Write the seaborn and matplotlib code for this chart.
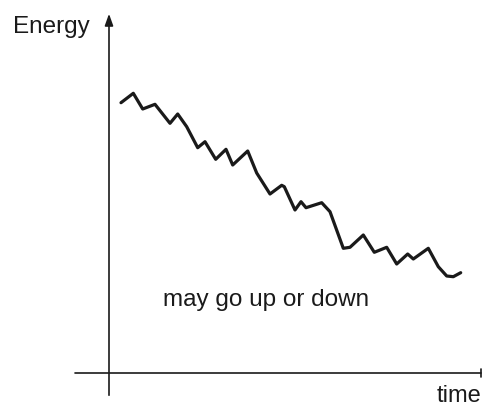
import matplotlib
matplotlib.use("Agg")
import matplotlib.pyplot as plt
import seaborn as sns
import pandas as pd

# energy curve
time = [1.2, 2.43, 3.37, 4.6, 6.1, 6.87, 7.77, 8.87, 9.6, 10.67, 11.7, 12.37,
        13.87, 14.77, 16.1, 17.27, 17.53, 18.6, 19.2, 19.7, 21.27, 22.1, 23.43,
        24.1, 25.43, 26.53, 27.77, 28.77, 29.87, 30.43, 31.93, 32.93, 33.77,
        34.43, 35.17]
energy = [27.03, 27.97, 26.4, 26.87, 24.97, 25.9, 24.63, 22.53, 23.13, 21.37,
          22.37, 20.8, 22.2, 20.0, 17.9, 18.77, 18.63, 16.3, 17.13, 16.53,
          17.03, 16.13, 12.47, 12.57, 13.8, 12.07, 12.57, 10.9, 11.9, 11.4,
          12.47, 10.63, 9.7, 9.63, 10.03]
df = pd.DataFrame({"time": time, "energy": energy})

sns.set_style("white")
plt.rcParams['font.family'] = ['Liberation Sans', 'DejaVu Sans']

fig = plt.figure(figsize=(4.82, 4.08), dpi=100)
ax = fig.add_axes([0, 0, 1, 1])
ax.set_xlim(-10.9, 37.3)
ax.set_ylim(-3.5, 37.3)
ax.axis('off')

# curve
sns.lineplot(data=df, x="time", y="energy", sort=False, color='#1a1a1a',
             linewidth=2.3, ax=ax)
ax.lines[-1].set_solid_joinstyle('round')
ax.lines[-1].set_solid_capstyle('round')

# axes with arrow
ax.annotate('', xy=(0, 36.2), xytext=(0, -2.5),
            arrowprops=dict(arrowstyle='-|>,head_length=0.7,head_width=0.25',
                            color='#1a1a1a', lw=1.2))
ax.plot([-3.4, 37.2], [0, 0], color='#1a1a1a', lw=1.2)
ax.plot([37.2, 37.2], [-0.4, 0.4], color='#1a1a1a', lw=1.2)

# labels
ax.text(-5.8, 34.6, 'Energy', fontsize=17.5, ha='center', va='center', color='#1a1a1a')
ax.text(15.7, 7.3, 'may go up or down', fontsize=17.5, ha='center', va='center', color='#1a1a1a')
ax.text(37.2, -2.3, 'time', fontsize=17, ha='right', va='center', color='#1a1a1a')

plt.savefig('out.png', dpi=100)
